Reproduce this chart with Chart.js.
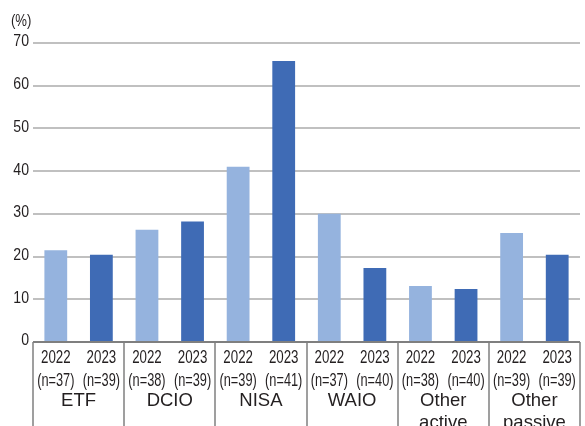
<!DOCTYPE html>
<html>
<head>
<meta charset="utf-8">
<script src="https://cdn.jsdelivr.net/npm/chart.js@4/dist/chart.umd.min.js"></script>
<style>
  html, body { margin: 0; padding: 0; background: #fff; }
  #wrap { width: 585px; height: 426px; position: relative; }
</style>
</head>
<body>
<div id="wrap"><canvas id="c" width="585" height="426"></canvas></div>
<script>
// Product groups along the x axis
const groups = [['ETF'], ['DCIO'], ['NISA'], ['WAIO'], ['Other', 'active'], ['Other', 'passive']];
// Survey years
const years = ['2022', '2023'];
// Share of respondents (%) per group
const values2022 = [21.5, 26.3, 41.0, 30.0, 13.1, 25.5];
const values2023 = [20.4, 28.2, 65.8, 17.3, 12.4, 20.4];
// Sample sizes per group and year
const n2022 = [37, 38, 39, 37, 38, 39];
const n2023 = [39, 39, 41, 40, 40, 39];
// Value axis ticks
const yTicks = [0, 10, 20, 30, 40, 50, 60, 70];

const FONT = "'Liberation Sans', Arial, Helvetica, sans-serif";
const TEXT = '#231f20';
const LIGHT = '#95b3de';
const DARK = '#3f6bb5';

const sampleSizes = [n2022, n2023];

// Condensed text: the face is squeezed horizontally by sx
function condensed(ctx, text, x, y, size, sx, align) {
  ctx.save();
  ctx.font = size + 'px ' + FONT;
  ctx.textBaseline = 'middle';
  ctx.textAlign = align;
  ctx.translate(x, y);
  ctx.scale(sx, 1);
  ctx.fillText(text, 0, 0);
  ctx.restore();
}

// Axis labels, group separators and the unit label
const axisDecor = {
  id: 'axisDecor',
  afterDraw(chart) {
    const ctx = chart.ctx;
    const area = chart.chartArea;
    const x = chart.scales.x;
    const y = chart.scales.y;
    const H = chart.height;
    const step = x.getPixelForValue(1) - x.getPixelForValue(0);
    ctx.save();
    ctx.fillStyle = TEXT;

    // value axis labels
    yTicks.forEach(v => {
      condensed(ctx, String(v), 29, y.getPixelForValue(v) - 1, 16, 0.88, 'right');
    });

    // separators between groups
    ctx.strokeStyle = '#7f7f7f';
    ctx.lineWidth = 1.5;
    for (let i = 0; i <= groups.length; i++) {
      const px = x.getPixelForValue(0) - step / 2 + i * step;
      ctx.beginPath();
      ctx.moveTo(Math.round(px), area.bottom);
      ctx.lineTo(Math.round(px), H);
      ctx.stroke();
    }

    // year and sample-size labels under each bar
    chart.data.datasets.forEach((ds, d) => {
      chart.getDatasetMeta(d).data.forEach((bar, i) => {
        condensed(ctx, years[d], bar.x, area.bottom + 16, 18.5, 0.72, 'center');
        condensed(ctx, '(n=' + sampleSizes[d][i] + ')', bar.x, area.bottom + 38.5, 18.5, 0.69, 'center');
      });
    });

    // group names
    groups.forEach((lines, i) => {
      const cx = x.getPixelForValue(i);
      lines.forEach((line, k) => {
        condensed(ctx, line, cx, area.bottom + 59 + k * 22, 18.5, 1.0, 'center');
      });
    });

    // unit label
    condensed(ctx, '(%)', 11, 22, 16, 0.82, 'left');
    ctx.restore();
  }
};

new Chart(document.getElementById('c'), {
  type: 'bar',
  data: {
    labels: groups,
    datasets: [
      { label: years[0], data: values2022, backgroundColor: LIGHT },
      { label: years[1], data: values2023, backgroundColor: DARK }
    ]
  },
  options: {
    responsive: false,
    animation: false,
    devicePixelRatio: 1,
    layout: { padding: { top: 43, right: 5, left: 0, bottom: 0 } },
    plugins: { legend: { display: false }, tooltip: { enabled: false } },
    datasets: { bar: { categoryPercentage: 1.0, barPercentage: 0.5 } },
    scales: {
      x: {
        grid: { display: false, drawTicks: false },
        border: { display: false },
        ticks: { display: false },
        afterFit(scale) { scale.height = 84; }
      },
      y: {
        min: 0,
        max: 70,
        afterBuildTicks(scale) { scale.ticks = yTicks.map(v => ({ value: v })); },
        grid: {
          color: ctx => ctx.tick && ctx.tick.value === 0 ? '#7f7f7f' : '#c0c0c0',
          lineWidth: 2,
          drawTicks: false
        },
        border: { display: false },
        ticks: { display: false },
        afterFit(scale) { scale.width = 33; }
      }
    }
  },
  plugins: [axisDecor]
});
</script>
</body>
</html>
